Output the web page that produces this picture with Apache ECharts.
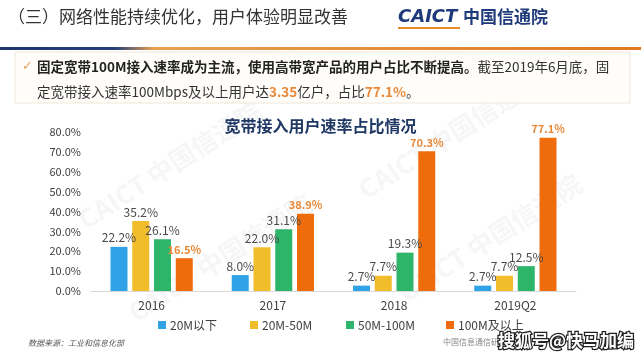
<!DOCTYPE html>
<html><head><meta charset="utf-8">
<script src="https://cdn.jsdelivr.net/npm/echarts@6/dist/echarts.min.js"></script>
<style>html,body{margin:0;padding:0;background:#fff}#c{width:641px;height:361px}</style>
</head><body><div id="c"></div>
<script>
const categories = ['2016', '2017', '2018', '2019Q2'];
const seriesNames = ['20M以下', '20M-50M', '50M-100M', '100M及以上'];
const below20 = [22.2, 8.0, 2.7, 2.7];
const from20to50 = [35.2, 22.0, 7.7, 7.7];
const from50to100 = [26.1, 31.1, 19.3, 12.5];
const above100 = [16.5, 38.9, 70.3, 77.1];
const yMin = 0, yMax = 80, yStep = 10;

const colors = ['#2fa3e6', '#f1bd2b', '#2db56a', '#ef6c0c'];
const FONT = '"Noto Sans CJK SC", "Noto Sans", sans-serif';
const chart = echarts.init(document.getElementById('c'));

const values = [below20, from20to50, from50to100, above100];
const legendLeft = [153, 245, 341, 441];

const series = values.map((d, i) => ({
  name: seriesNames[i],
  type: 'bar',
  data: d,
  barWidth: 17,
  barGap: '28%',
  itemStyle: { color: colors[i] },
  label: {
    show: true,
    position: 'top',
    distance: 3,
    fontFamily: FONT,
    fontSize: i === 3 ? 11 : 12,
    fontWeight: i === 3 ? 'bold' : 'normal',
    color: i === 3 ? '#e8893a' : '#4a4a4a',
    formatter: p => p.value.toFixed(1) + '%'
  }
}));

const watermark = (x, y) => ({
  type: 'text', x: x, y: y, rotation: Math.PI / 5.5, silent: true,
  style: { text: 'CAICT 中国信通院', font: 'bold 26px ' + FONT, fill: 'rgba(150,160,175,0.09)', textAlign: 'center', textVerticalAlign: 'middle' }
});

chart.setOption({
  animation: false,
  textStyle: { fontFamily: FONT },
  title: {
    text: '宽带接入用户速率占比情况', left: 'center', top: 113,
    textStyle: { fontFamily: FONT, fontSize: 16, fontWeight: 'bold', color: '#1f3864' }
  },
  legend: seriesNames.map((n, i) => ({
    data: [n], left: legendLeft[i], top: 314, icon: 'rect', itemWidth: 8, itemHeight: 8, itemGap: 5,
    textStyle: { fontFamily: FONT, fontSize: 12, color: '#404040', padding: [0, 0, 0, -1] }
  })),
  grid: { left: 91, right: 65, top: 132, bottom: 70 },
  xAxis: {
    type: 'category', data: categories,
    axisLine: { lineStyle: { color: '#d9d9d9', width: 1 } },
    axisTick: { show: false },
    axisLabel: { fontFamily: FONT, fontSize: 12, color: '#404040', margin: 8 }
  },
  yAxis: {
    type: 'value', min: yMin, max: yMax, interval: yStep,
    splitLine: { show: false },
    axisLine: { show: false }, axisTick: { show: false },
    axisLabel: { fontFamily: FONT, fontSize: 11, color: '#404040', margin: 10, formatter: v => v.toFixed(1) + '%' }
  },
  series: series,
  graphic: [
    watermark(170, 165), watermark(450, 135), watermark(220, 258), watermark(490, 238),
    { type: 'text', x: 8, y: 17, style: { text: '（三）网络性能持续优化，用户体验明显改善', font: '17px ' + FONT, fill: '#333333', textVerticalAlign: 'middle' } },
    { type: 'text', x: 398, y: 17, style: { text: 'CAICT', font: 'italic 900 18px "DejaVu Sans", sans-serif', fill: '#1f3a7a', textVerticalAlign: 'middle' } },
    { type: 'rect', shape: { x: 398, y: 27, width: 62, height: 2 }, style: { fill: '#e8892b' } },
    { type: 'text', x: 463, y: 17, style: { text: '中国信通院', font: 'bold 17px ' + FONT, fill: '#1f3a7a', textVerticalAlign: 'middle' } },
    { type: 'rect', shape: { x: 0, y: 47, width: 641, height: 3 },
      style: { fill: new echarts.graphic.LinearGradient(0, 0, 1, 0, [
        { offset: 0, color: '#1f3470' }, { offset: 0.18, color: '#26407a' }, { offset: 0.24, color: '#e8a050' }, { offset: 1, color: '#e07a20' }]) } },
    { type: 'rect', shape: { x: 15, y: 52, width: 615, height: 51 }, style: { fill: '#fffdf9', stroke: '#f0e8da', lineWidth: 1 } },
    { type: 'text', x: 22, y: 67, style: { text: '✓', font: '13px "DejaVu Sans", sans-serif', fill: '#e0a060', textVerticalAlign: 'middle' } },
    { type: 'text', x: 37, y: 67, style: {
      text: '{b|固定宽带100M接入速率成为主流，使用高带宽产品的用户占比不断提高。}{n|截至2019年6月底，固}',
      textVerticalAlign: 'middle',
      rich: { b: { font: 'bold 13.5px ' + FONT, fill: '#222' }, n: { font: '13.5px ' + FONT, fill: '#333' } } } },
    { type: 'text', x: 37, y: 92, style: {
      text: '{n|定宽带接入速率100Mbps及以上用户达}{o|3.35}{n|亿户，占比}{o|77.1%}{n|。}',
      textVerticalAlign: 'middle',
      rich: { n: { font: '13.5px ' + FONT, fill: '#333' }, o: { font: 'bold 13.5px ' + FONT, fill: '#e8893a' } } } },
    { type: 'text', x: 28, y: 343, style: { text: '数据来源：工业和信息化部', font: 'italic 8px ' + FONT, fill: '#555', textVerticalAlign: 'middle' } },
    { type: 'text', x: 443, y: 342, style: { text: '中国信息通信研究院', font: '8px ' + FONT, fill: '#888', textVerticalAlign: 'middle' } },
    { type: 'text', x: 498, y: 341, style: { text: '搜狐号@快马加编', font: 'bold 17px ' + FONT, fill: '#ffffff', stroke: '#222', lineWidth: 2.5, textVerticalAlign: 'middle' } }
  ]
});
</script></body></html>
